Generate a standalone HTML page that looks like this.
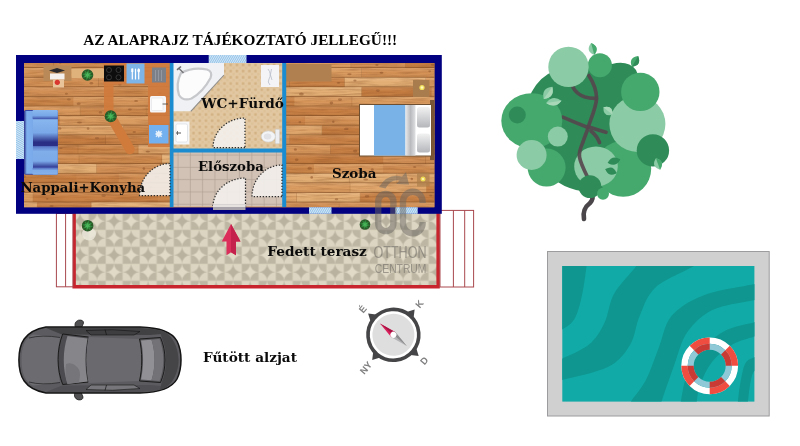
<!DOCTYPE html>
<html lang="hu"><head><meta charset="utf-8"><title>Alaprajz</title>
<style>html,body{margin:0;padding:0;background:#fff;overflow:hidden}svg{display:block}</style>
</head><body>
<svg width="800" height="446" viewBox="0 0 800 446">
<rect width="800" height="446" fill="#ffffff"/>
<defs>
<pattern id="hatch" width="1.85" height="4" patternUnits="userSpaceOnUse" patternTransform="rotate(30)">
<rect width="1.85" height="4" fill="#d6e8f6"/><rect width="0.95" height="4" fill="#93c3ea"/></pattern>
<pattern id="hatchV" width="1.85" height="4" patternUnits="userSpaceOnUse" patternTransform="rotate(120)">
<rect width="1.85" height="4" fill="#d6e8f6"/><rect width="0.95" height="4" fill="#93c3ea"/></pattern>
<pattern id="terr" width="34" height="34" patternUnits="userSpaceOnUse" x="3.6" y="-8.3">
<rect width="34" height="34" fill="#bcb6a3"/>
<rect x="17" y="0" width="17" height="17" fill="#dbd5c1"/>
<rect x="0" y="17" width="17" height="17" fill="#dcd6c2"/>
<path d="M0 8.5 A8.5 8.5 0 0 0 8.5 0 A8.5 8.5 0 0 0 17 8.5 A8.5 8.5 0 0 0 8.5 17 A8.5 8.5 0 0 0 0 8.5Z" fill="#e0dac6"/>
<path d="M17 25.5 A8.5 8.5 0 0 0 25.5 17 A8.5 8.5 0 0 0 34 25.5 A8.5 8.5 0 0 0 25.5 34 A8.5 8.5 0 0 0 17 25.5Z" fill="#e0dac6"/>
<path d="M17 8.5 A8.5 8.5 0 0 0 25.5 0 A8.5 8.5 0 0 0 34 8.5 A8.5 8.5 0 0 0 25.5 17 A8.5 8.5 0 0 0 17 8.5Z" fill="#b8b29f"/>
<path d="M0 25.5 A8.5 8.5 0 0 0 8.5 17 A8.5 8.5 0 0 0 17 25.5 A8.5 8.5 0 0 0 8.5 34 A8.5 8.5 0 0 0 0 25.5Z" fill="#b8b29f"/>
<path d="M0 0H34M0 17H34M0 0V34M17 0V34" stroke="#cfc9b5" stroke-width="0.6" fill="none"/>
</pattern>
<pattern id="bath" width="6.2" height="6.2" patternUnits="userSpaceOnUse" x="173" y="63">
<rect width="6.2" height="6.2" fill="#e2c8a2"/>
<rect x="0.6" y="0.6" width="2.6" height="2.6" fill="#d3b284"/>
<rect x="3.7" y="3.7" width="2.2" height="2.2" fill="#dcc096"/>
</pattern>
<pattern id="hall" width="12.3" height="12.3" patternUnits="userSpaceOnUse" x="177.6" y="154.6">
<rect width="12.3" height="12.3" fill="#cfbfb2"/>
<rect x="0.8" y="0.8" width="10.7" height="10.7" fill="#d1c2b5"/>
<path d="M0 0.1H12.3M0.1 0V12.3" stroke="#a6958a" stroke-width="0.75" fill="none"/>
</pattern>
<linearGradient id="sofaA" x1="0" y1="0" x2="0" y2="1">
<stop offset="0" stop-color="#8ab8ee"/><stop offset="0.6" stop-color="#79a8e8"/><stop offset="1" stop-color="#3c4ea8"/></linearGradient>
<linearGradient id="sofaC" x1="0" y1="0" x2="0" y2="1">
<stop offset="0" stop-color="#88b6ee"/><stop offset="0.5" stop-color="#7aa8e8"/><stop offset="0.85" stop-color="#2a2e84"/><stop offset="1" stop-color="#2c2f86"/></linearGradient>
<linearGradient id="sofaD" x1="0" y1="0" x2="0" y2="1">
<stop offset="0" stop-color="#5a78c8"/><stop offset="0.25" stop-color="#80aeea"/><stop offset="0.7" stop-color="#7ca9e8"/><stop offset="1" stop-color="#2e3690"/></linearGradient>
<linearGradient id="sofaE" x1="0" y1="0" x2="0" y2="1">
<stop offset="0" stop-color="#5068bc"/><stop offset="0.4" stop-color="#7eacea"/><stop offset="1" stop-color="#86b2ec"/></linearGradient>
<linearGradient id="sofaB" x1="0" y1="0" x2="1" y2="0">
<stop offset="0" stop-color="#2c3590"/><stop offset="0.3" stop-color="#7fb0ee"/><stop offset="1" stop-color="#7aa9ea"/></linearGradient>
<linearGradient id="bedG" x1="0" y1="0" x2="1" y2="0">
<stop offset="0" stop-color="#e9e9ea"/><stop offset="0.5" stop-color="#b9babd"/><stop offset="1" stop-color="#dfe0e2"/></linearGradient>
<linearGradient id="pil" x1="0" y1="0" x2="0" y2="1">
<stop offset="0" stop-color="#f2f2f2"/><stop offset="1" stop-color="#b4b6ba"/></linearGradient>
<linearGradient id="plankshade" x1="0" y1="0" x2="0" y2="1">
<stop offset="0" stop-color="#fff0d8" stop-opacity="0.16"/><stop offset="0.5" stop-color="#fff0d8" stop-opacity="0"/><stop offset="1" stop-color="#70400f" stop-opacity="0.16"/></linearGradient>
<filter id="soft" x="0" y="0" width="100%" height="100%"><feGaussianBlur stdDeviation="0.55"/></filter>
<filter id="grain" x="0" y="0" width="100%" height="100%" color-interpolation-filters="sRGB">
<feTurbulence type="fractalNoise" baseFrequency="0.035 0.55" numOctaves="3" seed="4" result="n"/>
<feColorMatrix in="n" type="matrix" values="0 0 0 0 0.50  0 0 0 0 0.28  0 0 0 0 0.12  1.9 0 0 0 -0.78"/>
</filter>
<clipPath id="poolclip"><rect x="562.300" y="266" width="192.100" height="135.600"/></clipPath>
<clipPath id="floorclip"><rect x="24" y="63" width="410.400" height="144.200"/></clipPath>
</defs>
<text x="83.2" y="45.4" font-family="'Liberation Serif',serif" font-weight="bold" font-size="15.2" textLength="314" lengthAdjust="spacingAndGlyphs" fill="#000">AZ ALAPRAJZ TÁJÉKOZTATÓ JELLEGŰ!!!</text>
<g id="terrace">
<rect x="73" y="213" width="367" height="75" fill="url(#terr)" filter="url(#soft)"/>
<path d="M74.15 213 V286.8 H438.1 V213" fill="none" stroke="#c8242e" stroke-width="3.4"/>
<g fill="#fff" stroke="#a8484e" stroke-width="1"><rect x="56.4" y="213.5" width="16.5" height="73.3"/><line x1="65.6" y1="213.5" x2="65.6" y2="286.8"/>
<rect x="440" y="210.4" width="33.6" height="76.6"/><line x1="453.4" y1="210.4" x2="453.4" y2="287"/><line x1="464.700" y1="210.4" x2="464.700" y2="287"/></g>
</g>
<rect x="16" y="55" width="425.800" height="158.800" fill="#000080"/>
<rect x="24" y="63" width="410.400" height="144.200" fill="#c48a52"/>
<g clip-path="url(#floorclip)">
<rect x="4.6" y="58.40" width="49.6" height="9.60" fill="#d18e54"/>
<rect x="53.4" y="58.40" width="0.9" height="9.60" fill="#8a5428" opacity="0.45"/>
<rect x="53.9" y="58.40" width="70.0" height="9.60" fill="#d08c50"/>
<ellipse cx="60.2" cy="62.9" rx="1.3" ry="0.9" fill="#8e5226" opacity="0.55"/>
<rect x="123.6" y="58.40" width="75.6" height="9.60" fill="#d7965a"/>
<rect x="198.5" y="58.40" width="0.9" height="9.60" fill="#8a5428" opacity="0.45"/>
<ellipse cx="170.1" cy="63.5" rx="1.3" ry="1.2" fill="#8e5226" opacity="0.55"/>
<rect x="199.0" y="58.40" width="40.0" height="9.60" fill="#c37a3e"/>
<rect x="238.2" y="58.40" width="0.9" height="9.60" fill="#8a5428" opacity="0.45"/>
<ellipse cx="212.2" cy="61.5" rx="1.3" ry="1.0" fill="#8e5226" opacity="0.55"/>
<rect x="238.7" y="58.40" width="112.8" height="9.60" fill="#d99a5e"/>
<rect x="350.7" y="58.40" width="0.9" height="9.60" fill="#8a5428" opacity="0.45"/>
<ellipse cx="281.6" cy="63.4" rx="1.3" ry="0.8" fill="#8e5226" opacity="0.55"/>
<rect x="351.2" y="58.40" width="54.9" height="9.60" fill="#d18e54"/>
<rect x="405.3" y="58.40" width="0.9" height="9.60" fill="#8a5428" opacity="0.45"/>
<ellipse cx="376.9" cy="65.1" rx="1.6" ry="1.0" fill="#8e5226" opacity="0.55"/>
<rect x="405.8" y="58.40" width="52.4" height="9.60" fill="#c37a3e"/>
<rect x="457.4" y="58.40" width="0.9" height="9.60" fill="#8a5428" opacity="0.45"/>
<ellipse cx="432.9" cy="64.8" rx="2.1" ry="1.0" fill="#8e5226" opacity="0.55"/>
<rect x="24" y="58.40" width="411" height="9.60" fill="url(#plankshade)"/>
<rect x="24" y="67.30" width="411" height="1.3" fill="#7c4a22" opacity="0.72"/>
<rect x="-34.8" y="68.00" width="46.5" height="9.60" fill="#c88044"/>
<rect x="10.9" y="68.00" width="0.9" height="9.60" fill="#8a5428" opacity="0.45"/>
<ellipse cx="-25.0" cy="72.7" rx="1.2" ry="1.3" fill="#8e5226" opacity="0.55"/>
<rect x="11.4" y="68.00" width="107.9" height="9.60" fill="#d7965a"/>
<ellipse cx="49.3" cy="72.1" rx="1.8" ry="1.4" fill="#8e5226" opacity="0.55"/>
<rect x="119.0" y="68.00" width="41.8" height="9.60" fill="#c98346"/>
<ellipse cx="146.4" cy="70.8" rx="2.1" ry="1.0" fill="#8e5226" opacity="0.55"/>
<ellipse cx="142.4" cy="73.6" rx="1.7" ry="1.3" fill="#8e5226" opacity="0.55"/>
<rect x="160.6" y="68.00" width="119.6" height="9.60" fill="#d39054"/>
<rect x="279.3" y="68.00" width="0.9" height="9.60" fill="#8a5428" opacity="0.45"/>
<ellipse cx="204.1" cy="73.2" rx="1.8" ry="1.0" fill="#8e5226" opacity="0.55"/>
<ellipse cx="196.6" cy="73.8" rx="1.7" ry="1.4" fill="#8e5226" opacity="0.55"/>
<rect x="279.8" y="68.00" width="82.5" height="9.60" fill="#d99a5e"/>
<rect x="361.5" y="68.00" width="0.9" height="9.60" fill="#8a5428" opacity="0.45"/>
<ellipse cx="349.4" cy="74.2" rx="2.2" ry="1.0" fill="#8e5226" opacity="0.55"/>
<rect x="362.0" y="68.00" width="74.8" height="9.60" fill="#d39054"/>
<rect x="436.0" y="68.00" width="0.9" height="9.60" fill="#8a5428" opacity="0.45"/>
<ellipse cx="429.7" cy="71.2" rx="1.4" ry="1.0" fill="#8e5226" opacity="0.55"/>
<ellipse cx="381.5" cy="72.7" rx="1.9" ry="1.0" fill="#8e5226" opacity="0.55"/>
<rect x="24" y="68.00" width="411" height="9.60" fill="url(#plankshade)"/>
<rect x="24" y="76.90" width="411" height="1.3" fill="#7c4a22" opacity="0.72"/>
<rect x="23.8" y="77.60" width="75.1" height="9.60" fill="#d39054"/>
<rect x="98.1" y="77.60" width="0.9" height="9.60" fill="#8a5428" opacity="0.45"/>
<ellipse cx="91.4" cy="83.2" rx="1.8" ry="1.2" fill="#8e5226" opacity="0.55"/>
<rect x="98.6" y="77.60" width="99.5" height="9.60" fill="#d08c50"/>
<rect x="197.3" y="77.60" width="0.9" height="9.60" fill="#8a5428" opacity="0.45"/>
<ellipse cx="138.9" cy="81.9" rx="1.8" ry="1.1" fill="#8e5226" opacity="0.55"/>
<ellipse cx="119.9" cy="84.5" rx="1.7" ry="0.9" fill="#8e5226" opacity="0.55"/>
<rect x="197.8" y="77.60" width="92.4" height="9.60" fill="#c98346"/>
<rect x="289.4" y="77.60" width="0.9" height="9.60" fill="#8a5428" opacity="0.45"/>
<ellipse cx="246.9" cy="84.4" rx="1.9" ry="0.8" fill="#8e5226" opacity="0.55"/>
<rect x="289.9" y="77.60" width="55.1" height="9.60" fill="#c88044"/>
<rect x="344.1" y="77.60" width="0.9" height="9.60" fill="#8a5428" opacity="0.45"/>
<ellipse cx="338.5" cy="82.8" rx="1.8" ry="0.9" fill="#8e5226" opacity="0.55"/>
<rect x="344.6" y="77.60" width="81.7" height="9.60" fill="#e3ae74"/>
<rect x="425.5" y="77.60" width="0.9" height="9.60" fill="#8a5428" opacity="0.45"/>
<ellipse cx="354.9" cy="80.6" rx="1.6" ry="1.0" fill="#8e5226" opacity="0.55"/>
<rect x="426.0" y="77.60" width="114.0" height="9.60" fill="#d99a5e"/>
<rect x="539.2" y="77.60" width="0.9" height="9.60" fill="#8a5428" opacity="0.45"/>
<ellipse cx="530.5" cy="82.5" rx="1.4" ry="1.2" fill="#8e5226" opacity="0.55"/>
<rect x="24" y="77.60" width="411" height="9.60" fill="url(#plankshade)"/>
<rect x="24" y="86.50" width="411" height="1.3" fill="#7c4a22" opacity="0.72"/>
<rect x="22.4" y="87.20" width="85.5" height="9.60" fill="#d18e54"/>
<ellipse cx="66.4" cy="93.8" rx="1.6" ry="1.0" fill="#8e5226" opacity="0.55"/>
<rect x="107.5" y="87.20" width="86.7" height="9.60" fill="#cb864a"/>
<rect x="193.5" y="87.20" width="0.9" height="9.60" fill="#8a5428" opacity="0.45"/>
<ellipse cx="159.7" cy="93.2" rx="2.1" ry="0.9" fill="#8e5226" opacity="0.55"/>
<rect x="194.0" y="87.20" width="58.0" height="9.60" fill="#c88044"/>
<ellipse cx="207.9" cy="91.9" rx="2.1" ry="1.5" fill="#8e5226" opacity="0.55"/>
<rect x="251.7" y="87.20" width="110.4" height="9.60" fill="#e3ae74"/>
<rect x="361.3" y="87.20" width="0.9" height="9.60" fill="#8a5428" opacity="0.45"/>
<ellipse cx="301.4" cy="93.9" rx="2.4" ry="1.5" fill="#8e5226" opacity="0.55"/>
<rect x="361.8" y="87.20" width="69.9" height="9.60" fill="#c37a3e"/>
<rect x="430.9" y="87.20" width="0.9" height="9.60" fill="#8a5428" opacity="0.45"/>
<ellipse cx="377.9" cy="90.6" rx="1.9" ry="1.4" fill="#8e5226" opacity="0.55"/>
<ellipse cx="417.6" cy="91.9" rx="2.0" ry="1.4" fill="#8e5226" opacity="0.55"/>
<rect x="431.4" y="87.20" width="43.4" height="9.60" fill="#d18e54"/>
<rect x="474.0" y="87.20" width="0.9" height="9.60" fill="#8a5428" opacity="0.45"/>
<ellipse cx="462.9" cy="93.1" rx="1.8" ry="0.9" fill="#8e5226" opacity="0.55"/>
<ellipse cx="463.1" cy="91.2" rx="2.2" ry="1.5" fill="#8e5226" opacity="0.55"/>
<rect x="24" y="87.20" width="411" height="9.60" fill="url(#plankshade)"/>
<rect x="24" y="96.10" width="411" height="1.3" fill="#7c4a22" opacity="0.72"/>
<rect x="0.2" y="96.80" width="73.4" height="9.60" fill="#c98346"/>
<ellipse cx="68.9" cy="99.4" rx="1.9" ry="1.1" fill="#8e5226" opacity="0.55"/>
<rect x="73.4" y="96.80" width="97.6" height="9.60" fill="#d7965a"/>
<ellipse cx="136.1" cy="100.9" rx="1.9" ry="0.9" fill="#8e5226" opacity="0.55"/>
<ellipse cx="78.7" cy="103.7" rx="2.0" ry="1.2" fill="#8e5226" opacity="0.55"/>
<rect x="170.7" y="96.80" width="124.0" height="9.60" fill="#c88044"/>
<ellipse cx="270.3" cy="100.2" rx="1.5" ry="1.0" fill="#8e5226" opacity="0.55"/>
<rect x="294.4" y="96.80" width="58.2" height="9.60" fill="#d7965a"/>
<rect x="351.7" y="96.80" width="0.9" height="9.60" fill="#8a5428" opacity="0.45"/>
<ellipse cx="340.0" cy="99.6" rx="2.1" ry="1.4" fill="#8e5226" opacity="0.55"/>
<ellipse cx="331.4" cy="103.0" rx="1.8" ry="1.4" fill="#8e5226" opacity="0.55"/>
<rect x="352.2" y="96.80" width="118.7" height="9.60" fill="#d99a5e"/>
<rect x="470.2" y="96.80" width="0.9" height="9.60" fill="#8a5428" opacity="0.45"/>
<rect x="24" y="96.80" width="411" height="9.60" fill="url(#plankshade)"/>
<rect x="24" y="105.70" width="411" height="1.3" fill="#7c4a22" opacity="0.72"/>
<rect x="-28.4" y="106.40" width="109.1" height="9.60" fill="#d7965a"/>
<rect x="79.9" y="106.40" width="0.9" height="9.60" fill="#8a5428" opacity="0.45"/>
<ellipse cx="-7.0" cy="111.0" rx="2.1" ry="1.2" fill="#8e5226" opacity="0.55"/>
<rect x="80.4" y="106.40" width="66.3" height="9.60" fill="#cb864a"/>
<rect x="145.9" y="106.40" width="0.9" height="9.60" fill="#8a5428" opacity="0.45"/>
<ellipse cx="129.9" cy="109.4" rx="1.9" ry="1.0" fill="#8e5226" opacity="0.55"/>
<ellipse cx="100.5" cy="112.4" rx="1.8" ry="1.2" fill="#8e5226" opacity="0.55"/>
<rect x="146.4" y="106.40" width="107.5" height="9.60" fill="#c98346"/>
<rect x="253.1" y="106.40" width="0.9" height="9.60" fill="#8a5428" opacity="0.45"/>
<ellipse cx="219.1" cy="110.9" rx="1.8" ry="1.1" fill="#8e5226" opacity="0.55"/>
<rect x="253.6" y="106.40" width="124.7" height="9.60" fill="#c77e42"/>
<rect x="377.5" y="106.40" width="0.9" height="9.60" fill="#8a5428" opacity="0.45"/>
<ellipse cx="365.0" cy="112.9" rx="1.4" ry="1.1" fill="#8e5226" opacity="0.55"/>
<rect x="378.0" y="106.40" width="74.9" height="9.60" fill="#c88044"/>
<rect x="452.1" y="106.40" width="0.9" height="9.60" fill="#8a5428" opacity="0.45"/>
<rect x="24" y="106.40" width="411" height="9.60" fill="url(#plankshade)"/>
<rect x="24" y="115.30" width="411" height="1.3" fill="#7c4a22" opacity="0.72"/>
<rect x="-16.3" y="116.00" width="76.0" height="9.60" fill="#c37a3e"/>
<rect x="58.9" y="116.00" width="0.9" height="9.60" fill="#8a5428" opacity="0.45"/>
<rect x="59.4" y="116.00" width="120.5" height="9.60" fill="#d99a5e"/>
<ellipse cx="79.5" cy="122.5" rx="2.4" ry="1.0" fill="#8e5226" opacity="0.55"/>
<rect x="179.6" y="116.00" width="125.8" height="9.60" fill="#c88044"/>
<ellipse cx="299.9" cy="122.2" rx="1.4" ry="1.1" fill="#8e5226" opacity="0.55"/>
<rect x="305.1" y="116.00" width="84.3" height="9.60" fill="#d39054"/>
<rect x="388.6" y="116.00" width="0.9" height="9.60" fill="#8a5428" opacity="0.45"/>
<ellipse cx="333.3" cy="121.7" rx="1.2" ry="1.2" fill="#8e5226" opacity="0.55"/>
<rect x="389.1" y="116.00" width="77.1" height="9.60" fill="#d08c50"/>
<rect x="465.5" y="116.00" width="0.9" height="9.60" fill="#8a5428" opacity="0.45"/>
<ellipse cx="428.4" cy="118.8" rx="2.4" ry="1.4" fill="#8e5226" opacity="0.55"/>
<rect x="24" y="116.00" width="411" height="9.60" fill="url(#plankshade)"/>
<rect x="24" y="124.90" width="411" height="1.3" fill="#7c4a22" opacity="0.72"/>
<rect x="-34.3" y="125.60" width="45.3" height="9.60" fill="#dfa56a"/>
<rect x="10.2" y="125.60" width="0.9" height="9.60" fill="#8a5428" opacity="0.45"/>
<ellipse cx="-20.3" cy="128.7" rx="1.7" ry="1.4" fill="#8e5226" opacity="0.55"/>
<rect x="10.7" y="125.60" width="113.1" height="9.60" fill="#dfa56a"/>
<rect x="123.0" y="125.60" width="0.9" height="9.60" fill="#8a5428" opacity="0.45"/>
<ellipse cx="88.1" cy="128.5" rx="1.3" ry="1.3" fill="#8e5226" opacity="0.55"/>
<ellipse cx="59.2" cy="128.4" rx="2.3" ry="1.2" fill="#8e5226" opacity="0.55"/>
<rect x="123.5" y="125.60" width="111.5" height="9.60" fill="#c98346"/>
<rect x="234.1" y="125.60" width="0.9" height="9.60" fill="#8a5428" opacity="0.45"/>
<ellipse cx="134.3" cy="132.0" rx="1.7" ry="1.0" fill="#8e5226" opacity="0.55"/>
<rect x="234.6" y="125.60" width="87.8" height="9.60" fill="#dfa56a"/>
<rect x="321.7" y="125.60" width="0.9" height="9.60" fill="#8a5428" opacity="0.45"/>
<rect x="322.2" y="125.60" width="85.4" height="9.60" fill="#c37a3e"/>
<ellipse cx="346.3" cy="128.9" rx="2.3" ry="1.2" fill="#8e5226" opacity="0.55"/>
<rect x="407.2" y="125.60" width="85.8" height="9.60" fill="#c37a3e"/>
<rect x="492.2" y="125.60" width="0.9" height="9.60" fill="#8a5428" opacity="0.45"/>
<ellipse cx="432.2" cy="131.7" rx="2.4" ry="0.8" fill="#8e5226" opacity="0.55"/>
<rect x="24" y="125.60" width="411" height="9.60" fill="url(#plankshade)"/>
<rect x="24" y="134.50" width="411" height="1.3" fill="#7c4a22" opacity="0.72"/>
<rect x="22.9" y="135.20" width="83.3" height="9.60" fill="#c37a3e"/>
<rect x="105.4" y="135.20" width="0.9" height="9.60" fill="#8a5428" opacity="0.45"/>
<ellipse cx="97.0" cy="138.2" rx="2.2" ry="1.1" fill="#8e5226" opacity="0.55"/>
<rect x="105.9" y="135.20" width="82.3" height="9.60" fill="#c88044"/>
<ellipse cx="160.8" cy="142.1" rx="1.6" ry="1.4" fill="#8e5226" opacity="0.55"/>
<rect x="188.0" y="135.20" width="102.4" height="9.60" fill="#d18e54"/>
<rect x="289.6" y="135.20" width="0.9" height="9.60" fill="#8a5428" opacity="0.45"/>
<ellipse cx="284.4" cy="141.5" rx="1.2" ry="1.2" fill="#8e5226" opacity="0.55"/>
<rect x="290.1" y="135.20" width="118.9" height="9.60" fill="#c88044"/>
<rect x="408.2" y="135.20" width="0.9" height="9.60" fill="#8a5428" opacity="0.45"/>
<rect x="408.7" y="135.20" width="98.5" height="9.60" fill="#c88044"/>
<ellipse cx="466.7" cy="140.8" rx="1.3" ry="0.9" fill="#8e5226" opacity="0.55"/>
<rect x="24" y="135.20" width="411" height="9.60" fill="url(#plankshade)"/>
<rect x="24" y="144.10" width="411" height="1.3" fill="#7c4a22" opacity="0.72"/>
<rect x="7.9" y="144.80" width="35.6" height="9.60" fill="#d39054"/>
<ellipse cx="18.5" cy="151.6" rx="1.6" ry="1.0" fill="#8e5226" opacity="0.55"/>
<rect x="43.2" y="144.80" width="35.4" height="9.60" fill="#c88044"/>
<rect x="77.8" y="144.80" width="0.9" height="9.60" fill="#8a5428" opacity="0.45"/>
<ellipse cx="60.8" cy="148.2" rx="1.8" ry="0.8" fill="#8e5226" opacity="0.55"/>
<rect x="78.3" y="144.80" width="60.4" height="9.60" fill="#c98346"/>
<rect x="137.9" y="144.80" width="0.9" height="9.60" fill="#8a5428" opacity="0.45"/>
<rect x="138.4" y="144.80" width="72.7" height="9.60" fill="#dfa56a"/>
<rect x="210.3" y="144.80" width="0.9" height="9.60" fill="#8a5428" opacity="0.45"/>
<ellipse cx="147.8" cy="151.6" rx="2.2" ry="0.9" fill="#8e5226" opacity="0.55"/>
<rect x="210.8" y="144.80" width="120.1" height="9.60" fill="#d7965a"/>
<rect x="330.1" y="144.80" width="0.9" height="9.60" fill="#8a5428" opacity="0.45"/>
<ellipse cx="295.4" cy="149.5" rx="1.5" ry="1.2" fill="#8e5226" opacity="0.55"/>
<rect x="330.6" y="144.80" width="49.1" height="9.60" fill="#c77e42"/>
<ellipse cx="364.5" cy="151.0" rx="1.4" ry="1.2" fill="#8e5226" opacity="0.55"/>
<ellipse cx="355.2" cy="151.1" rx="2.2" ry="1.4" fill="#8e5226" opacity="0.55"/>
<rect x="379.4" y="144.80" width="90.8" height="9.60" fill="#c77e42"/>
<rect x="469.4" y="144.80" width="0.9" height="9.60" fill="#8a5428" opacity="0.45"/>
<ellipse cx="390.4" cy="147.5" rx="2.0" ry="1.5" fill="#8e5226" opacity="0.55"/>
<rect x="24" y="144.80" width="411" height="9.60" fill="url(#plankshade)"/>
<rect x="24" y="153.70" width="411" height="1.3" fill="#7c4a22" opacity="0.72"/>
<rect x="1.4" y="154.40" width="78.2" height="9.60" fill="#d08c50"/>
<rect x="78.8" y="154.40" width="0.9" height="9.60" fill="#8a5428" opacity="0.45"/>
<ellipse cx="39.6" cy="156.9" rx="2.2" ry="1.3" fill="#8e5226" opacity="0.55"/>
<rect x="79.3" y="154.40" width="83.1" height="9.60" fill="#cb864a"/>
<rect x="161.6" y="154.40" width="0.9" height="9.60" fill="#8a5428" opacity="0.45"/>
<rect x="162.1" y="154.40" width="106.1" height="9.60" fill="#e3ae74"/>
<rect x="267.4" y="154.40" width="0.9" height="9.60" fill="#8a5428" opacity="0.45"/>
<rect x="267.9" y="154.40" width="115.7" height="9.60" fill="#c37a3e"/>
<ellipse cx="296.7" cy="159.8" rx="1.8" ry="1.4" fill="#8e5226" opacity="0.55"/>
<rect x="383.3" y="154.40" width="42.6" height="9.60" fill="#d18e54"/>
<rect x="425.1" y="154.40" width="0.9" height="9.60" fill="#8a5428" opacity="0.45"/>
<rect x="425.6" y="154.40" width="93.9" height="9.60" fill="#d18e54"/>
<rect x="518.7" y="154.40" width="0.9" height="9.60" fill="#8a5428" opacity="0.45"/>
<ellipse cx="458.0" cy="159.8" rx="2.0" ry="1.2" fill="#8e5226" opacity="0.55"/>
<rect x="24" y="154.40" width="411" height="9.60" fill="url(#plankshade)"/>
<rect x="24" y="163.30" width="411" height="1.3" fill="#7c4a22" opacity="0.72"/>
<rect x="16.0" y="164.00" width="81.1" height="9.60" fill="#e3ae74"/>
<rect x="96.3" y="164.00" width="0.9" height="9.60" fill="#8a5428" opacity="0.45"/>
<rect x="96.8" y="164.00" width="101.1" height="9.60" fill="#d18e54"/>
<rect x="197.1" y="164.00" width="0.9" height="9.60" fill="#8a5428" opacity="0.45"/>
<ellipse cx="143.9" cy="168.6" rx="1.3" ry="1.4" fill="#8e5226" opacity="0.55"/>
<rect x="197.6" y="164.00" width="54.2" height="9.60" fill="#c98346"/>
<rect x="251.5" y="164.00" width="62.8" height="9.60" fill="#c98346"/>
<ellipse cx="309.7" cy="168.2" rx="2.3" ry="1.5" fill="#8e5226" opacity="0.55"/>
<ellipse cx="259.6" cy="166.9" rx="2.1" ry="1.0" fill="#8e5226" opacity="0.55"/>
<rect x="314.0" y="164.00" width="69.5" height="9.60" fill="#d7965a"/>
<ellipse cx="372.3" cy="169.7" rx="1.5" ry="1.4" fill="#8e5226" opacity="0.55"/>
<rect x="383.2" y="164.00" width="81.5" height="9.60" fill="#d08c50"/>
<rect x="463.9" y="164.00" width="0.9" height="9.60" fill="#8a5428" opacity="0.45"/>
<ellipse cx="437.1" cy="168.3" rx="2.1" ry="1.1" fill="#8e5226" opacity="0.55"/>
<ellipse cx="414.7" cy="167.0" rx="1.6" ry="1.0" fill="#8e5226" opacity="0.55"/>
<rect x="24" y="164.00" width="411" height="9.60" fill="url(#plankshade)"/>
<rect x="24" y="172.90" width="411" height="1.3" fill="#7c4a22" opacity="0.72"/>
<rect x="3.7" y="173.60" width="73.1" height="9.60" fill="#c37a3e"/>
<ellipse cx="24.1" cy="176.4" rx="1.7" ry="1.4" fill="#8e5226" opacity="0.55"/>
<rect x="76.5" y="173.60" width="42.6" height="9.60" fill="#c88044"/>
<rect x="118.8" y="173.60" width="62.0" height="9.60" fill="#d08c50"/>
<ellipse cx="156.9" cy="176.8" rx="2.4" ry="1.1" fill="#8e5226" opacity="0.55"/>
<rect x="180.5" y="173.60" width="65.3" height="9.60" fill="#d39054"/>
<ellipse cx="234.8" cy="179.8" rx="2.0" ry="1.4" fill="#8e5226" opacity="0.55"/>
<ellipse cx="238.1" cy="178.6" rx="2.1" ry="0.8" fill="#8e5226" opacity="0.55"/>
<rect x="245.4" y="173.60" width="104.9" height="9.60" fill="#e3ae74"/>
<rect x="349.5" y="173.60" width="0.9" height="9.60" fill="#8a5428" opacity="0.45"/>
<ellipse cx="311.7" cy="177.4" rx="1.3" ry="1.4" fill="#8e5226" opacity="0.55"/>
<rect x="350.0" y="173.60" width="47.4" height="9.60" fill="#e3ae74"/>
<rect x="396.6" y="173.60" width="0.9" height="9.60" fill="#8a5428" opacity="0.45"/>
<ellipse cx="365.7" cy="179.4" rx="2.4" ry="1.0" fill="#8e5226" opacity="0.55"/>
<rect x="397.1" y="173.60" width="97.6" height="9.60" fill="#dfa56a"/>
<rect x="493.9" y="173.60" width="0.9" height="9.60" fill="#8a5428" opacity="0.45"/>
<ellipse cx="411.8" cy="179.0" rx="1.3" ry="1.2" fill="#8e5226" opacity="0.55"/>
<ellipse cx="473.6" cy="178.6" rx="1.7" ry="1.0" fill="#8e5226" opacity="0.55"/>
<rect x="24" y="173.60" width="411" height="9.60" fill="url(#plankshade)"/>
<rect x="24" y="182.50" width="411" height="1.3" fill="#7c4a22" opacity="0.72"/>
<rect x="-21.6" y="183.20" width="75.9" height="9.60" fill="#cb864a"/>
<rect x="53.6" y="183.20" width="0.9" height="9.60" fill="#8a5428" opacity="0.45"/>
<rect x="54.1" y="183.20" width="51.9" height="9.60" fill="#cb864a"/>
<rect x="105.1" y="183.20" width="0.9" height="9.60" fill="#8a5428" opacity="0.45"/>
<ellipse cx="74.1" cy="189.3" rx="1.4" ry="0.8" fill="#8e5226" opacity="0.55"/>
<rect x="105.6" y="183.20" width="118.0" height="9.60" fill="#c88044"/>
<rect x="222.9" y="183.20" width="0.9" height="9.60" fill="#8a5428" opacity="0.45"/>
<ellipse cx="151.0" cy="187.2" rx="1.3" ry="1.0" fill="#8e5226" opacity="0.55"/>
<rect x="223.4" y="183.20" width="127.2" height="9.60" fill="#d99a5e"/>
<rect x="349.8" y="183.20" width="0.9" height="9.60" fill="#8a5428" opacity="0.45"/>
<ellipse cx="238.4" cy="189.7" rx="1.7" ry="1.3" fill="#8e5226" opacity="0.55"/>
<rect x="350.3" y="183.20" width="76.3" height="9.60" fill="#dfa56a"/>
<rect x="426.3" y="183.20" width="47.4" height="9.60" fill="#c88044"/>
<ellipse cx="468.2" cy="187.9" rx="1.3" ry="1.5" fill="#8e5226" opacity="0.55"/>
<ellipse cx="466.6" cy="188.1" rx="1.8" ry="1.1" fill="#8e5226" opacity="0.55"/>
<rect x="24" y="183.20" width="411" height="9.60" fill="url(#plankshade)"/>
<rect x="24" y="192.10" width="411" height="1.3" fill="#7c4a22" opacity="0.72"/>
<rect x="-23.0" y="192.80" width="56.6" height="9.60" fill="#d99a5e"/>
<rect x="32.8" y="192.80" width="0.9" height="9.60" fill="#8a5428" opacity="0.45"/>
<rect x="33.3" y="192.80" width="124.7" height="9.60" fill="#c77e42"/>
<ellipse cx="47.2" cy="198.8" rx="1.2" ry="0.9" fill="#8e5226" opacity="0.55"/>
<ellipse cx="103.6" cy="195.5" rx="2.1" ry="1.5" fill="#8e5226" opacity="0.55"/>
<rect x="157.7" y="192.80" width="94.8" height="9.60" fill="#cb864a"/>
<rect x="251.7" y="192.80" width="0.9" height="9.60" fill="#8a5428" opacity="0.45"/>
<rect x="252.2" y="192.80" width="44.7" height="9.60" fill="#dfa56a"/>
<rect x="296.2" y="192.80" width="0.9" height="9.60" fill="#8a5428" opacity="0.45"/>
<ellipse cx="270.4" cy="196.3" rx="1.9" ry="0.8" fill="#8e5226" opacity="0.55"/>
<rect x="296.7" y="192.80" width="63.9" height="9.60" fill="#e3ae74"/>
<rect x="359.8" y="192.80" width="0.9" height="9.60" fill="#8a5428" opacity="0.45"/>
<ellipse cx="336.5" cy="199.3" rx="1.8" ry="1.0" fill="#8e5226" opacity="0.55"/>
<rect x="360.3" y="192.80" width="58.8" height="9.60" fill="#c88044"/>
<ellipse cx="367.1" cy="196.2" rx="2.3" ry="1.3" fill="#8e5226" opacity="0.55"/>
<rect x="418.8" y="192.80" width="43.0" height="9.60" fill="#c37a3e"/>
<rect x="461.0" y="192.80" width="0.9" height="9.60" fill="#8a5428" opacity="0.45"/>
<ellipse cx="430.7" cy="195.5" rx="1.6" ry="1.1" fill="#8e5226" opacity="0.55"/>
<rect x="24" y="192.80" width="411" height="9.60" fill="url(#plankshade)"/>
<rect x="24" y="201.70" width="411" height="1.3" fill="#7c4a22" opacity="0.72"/>
<rect x="-17.0" y="202.40" width="54.1" height="9.60" fill="#dfa56a"/>
<rect x="36.9" y="202.40" width="54.8" height="9.60" fill="#c37a3e"/>
<rect x="90.9" y="202.40" width="0.9" height="9.60" fill="#8a5428" opacity="0.45"/>
<ellipse cx="51.6" cy="205.9" rx="2.1" ry="1.0" fill="#8e5226" opacity="0.55"/>
<rect x="91.4" y="202.40" width="125.7" height="9.60" fill="#e3ae74"/>
<rect x="216.3" y="202.40" width="0.9" height="9.60" fill="#8a5428" opacity="0.45"/>
<ellipse cx="152.3" cy="209.0" rx="1.3" ry="1.2" fill="#8e5226" opacity="0.55"/>
<rect x="216.8" y="202.40" width="122.9" height="9.60" fill="#d08c50"/>
<rect x="338.9" y="202.40" width="0.9" height="9.60" fill="#8a5428" opacity="0.45"/>
<ellipse cx="268.4" cy="208.1" rx="1.4" ry="1.1" fill="#8e5226" opacity="0.55"/>
<rect x="339.4" y="202.40" width="102.9" height="9.60" fill="#d39054"/>
<rect x="24" y="202.40" width="411" height="9.60" fill="url(#plankshade)"/>
<rect x="24" y="211.30" width="411" height="1.3" fill="#7c4a22" opacity="0.72"/>
<rect x="24" y="63" width="411" height="145" fill="#a0622e" filter="url(#grain)" opacity="0.38"/>
</g>
<g id="kitchen">
<rect x="103.500" y="63" width="66.500" height="21.5" fill="#d07a3e" opacity="0.9"/>
<rect x="148" y="84" width="22" height="63" fill="#d07a3e" opacity="0.9"/>
<rect x="104" y="84" width="9.5" height="33" fill="#d07a3c" opacity="0.9"/>
<path d="M110.700 116.300 L130 149.500" stroke="#d07a3c" stroke-width="9.5" stroke-linecap="round" fill="none"/>
<rect x="43.5" y="65.5" width="28" height="15.5" fill="#b98a58"/>
<rect x="71.5" y="69" width="32.5" height="9" fill="#dfb27c"/>
<rect x="50" y="73.5" width="14.5" height="6" fill="#f4f0ee"/>
<rect x="53" y="79.5" width="11" height="8" fill="#e9c49a"/>
<path d="M49 70.5 L57 68 L65 70.5 L57 73 Z" fill="#2a2a2c"/>
<circle cx="57.3" cy="82.3" r="2.6" fill="#d8362e"/>
<rect x="104" y="65.5" width="20" height="16" fill="#0d0d0d"/>
<circle cx="109" cy="70" r="2.5" fill="none" stroke="#3a3a3a" stroke-width="0.9"/>
<circle cx="118.5" cy="70" r="2.5" fill="none" stroke="#3a3a3a" stroke-width="0.9"/>
<circle cx="109" cy="77.3" r="2.5" fill="none" stroke="#3a3a3a" stroke-width="0.9"/>
<circle cx="118.5" cy="77.3" r="2.5" fill="none" stroke="#3a3a3a" stroke-width="0.9"/>
<rect x="126.5" y="63.5" width="18" height="20" fill="#7db5e8"/>
<g stroke="#fff" stroke-width="1.2" stroke-linecap="round"><line x1="132.3" y1="69" x2="132.3" y2="79"/><line x1="135.5" y1="69" x2="135.5" y2="79"/><line x1="138.7" y1="69" x2="138.7" y2="79"/></g>
<ellipse cx="138.7" cy="70.5" rx="1.3" ry="2" fill="#fff"/><rect x="131.3" y="68.5" width="2" height="3.5" fill="#fff"/>
<rect x="152" y="67.5" width="14" height="15" fill="#7c8088"/>
<g stroke="#9a9ea6" stroke-width="0.8"><line x1="155.5" y1="70" x2="155.5" y2="81"/><line x1="158.5" y1="70" x2="158.5" y2="81"/><line x1="161.5" y1="70" x2="161.5" y2="81"/></g>
<rect x="150" y="96" width="16" height="16.5" rx="1.5" fill="#f6f6f8"/>
<rect x="151.5" y="98" width="11.5" height="12.5" rx="1" fill="#fdfdfd" stroke="#dcdce0" stroke-width="0.5"/>
<line x1="162.5" y1="104" x2="168" y2="104" stroke="#55504c" stroke-width="0.9"/>
<rect x="149" y="125" width="19.5" height="18.5" fill="#72b0f0"/>
<path d="M158.800 130 L160.200 132.600 L162.800 134 L160.200 135.400 L158.800 138 L157.400 135.400 L154.800 134 L157.400 132.600 Z" fill="#eef5fc"/><path d="M156 131.200 L161.600 136.800 M161.600 131.200 L156 136.800" stroke="#e4effa" stroke-width="1.3"/>
<circle cx="87.5" cy="75" r="5.82" fill="#2b5a28"/>
<polygon points="93.1,76.1 89.6,76.4 90.6,79.8 88.0,77.5 86.4,80.6 86.1,77.1 82.7,78.1 85.0,75.5 81.9,73.9 85.4,73.6 84.4,70.2 87.0,72.5 88.6,69.4 88.9,72.9 92.3,71.9 90.0,74.5" fill="#2f8f3e"/>
<polygon points="90.8,76.8 88.2,76.1 87.6,78.7 86.9,76.2 84.3,76.9 86.2,75.0 84.2,73.2 86.8,73.9 87.4,71.3 88.1,73.8 90.7,73.1 88.8,75.0" fill="#4bb45a"/>
<circle cx="110.7" cy="116.3" r="6.01" fill="#2b5a28"/>
<polygon points="116.5,117.5 112.9,117.8 114.0,121.2 111.2,118.9 109.5,122.1 109.2,118.5 105.8,119.6 108.1,116.8 104.9,115.1 108.5,114.8 107.4,111.4 110.2,113.7 111.9,110.5 112.2,114.1 115.6,113.0 113.3,115.8" fill="#2f8f3e"/>
<polygon points="114.1,118.1 111.4,117.5 110.8,120.1 110.0,117.5 107.4,118.3 109.3,116.3 107.3,114.5 110.0,115.1 110.6,112.5 111.4,115.1 114.0,114.3 112.1,116.3" fill="#4bb45a"/>
</g>
<g id="sofa">
<rect x="24.2" y="110" width="33.6" height="64.800" rx="1.5" fill="#3a4aa4"/>
<rect x="24.2" y="111" width="8.8" height="62.800" fill="url(#sofaB)"/>
<rect x="32.5" y="110" width="25.300" height="9.2" rx="1.2" fill="url(#sofaA)"/>
<rect x="33" y="119.200" width="24.800" height="27" fill="url(#sofaC)"/>
<rect x="33" y="146.200" width="24.800" height="21.300" fill="url(#sofaD)"/>
<rect x="32.5" y="167.500" width="25.300" height="7.3" rx="1.2" fill="url(#sofaE)"/>
</g>
<rect x="173" y="63" width="110" height="86" fill="url(#bath)"/>
<rect x="173" y="152" width="110" height="54.5" fill="url(#hall)"/>
<g id="bedroom">
<rect x="286" y="64" width="45.5" height="17.5" fill="#b08050"/>
<rect x="413" y="80" width="16.5" height="17" fill="#a87c4c"/><circle cx="422" cy="87.5" r="2.6" fill="#f0e060"/><circle cx="422" cy="87.5" r="1.2" fill="#fff8c0"/>
<rect x="417" y="172.500" width="12.500" height="14" fill="#ad7f4c" opacity="0.7"/><circle cx="423" cy="179" r="2.5" fill="#eedb55"/><circle cx="423" cy="179" r="1.1" fill="#fff8c0"/>
<rect x="430" y="100" width="4.5" height="60" fill="#7a5636"/>
<rect x="359" y="104" width="72.5" height="52.5" fill="#6e5030"/>
<rect x="360" y="105" width="71" height="50.5" fill="#ffffff"/>
<rect x="374" y="105" width="31.5" height="50.5" fill="#78b2e6"/>
<rect x="405.5" y="105" width="10" height="50.5" fill="url(#bedG)"/>
<rect x="417" y="107" width="13" height="20.500" rx="2.5" fill="url(#pil)"/>
<rect x="417" y="133.5" width="13" height="19" rx="2.5" fill="url(#pil)"/>
</g>
<g id="bathfix">
<path d="M173 63 H224 V75 L190.800 111.3 H173 Z" fill="#eff1f4"/>
<path d="M224 75 L190.800 111.3" stroke="#8f8d8a" stroke-width="1.1" fill="none"/>
<path d="M181 73 Q193 66.500 207 69.500 Q213 71.500 210.500 78 Q203 92 191.500 98.500 Q183 101.500 179 95 Q175.500 84 181 73 Z" fill="#fcfcfd" stroke="#c6c8cb" stroke-width="2.2"/>
<path d="M178.800 68.300 L183.500 73" stroke="#77777b" stroke-width="1.5"/><path d="M177 69.800 L181 66.5" stroke="#6c6c70" stroke-width="1.6"/>
<rect x="261" y="65" width="18" height="22" fill="#f4f4f6"/>
<path d="M268 69 Q272 74 269 79 Q267 82 270 85 M271.500 69 Q269 75 272 80" stroke="#b8bcc8" stroke-width="0.8" fill="none"/>
<rect x="174" y="121.5" width="15.5" height="23" fill="#f4f6f8"/>
<rect x="176" y="124" width="11.5" height="18" rx="1.5" fill="#fff" stroke="#d4d8dc" stroke-width="0.6"/>
<line x1="176" y1="133" x2="181" y2="133" stroke="#555" stroke-width="1"/><line x1="177.500" y1="131" x2="177.500" y2="135" stroke="#555" stroke-width="0.8"/>
<rect x="275.300" y="129.300" width="4.2" height="14.4" rx="1" fill="#eceef1" stroke="#c4c8cc" stroke-width="0.5"/>
<ellipse cx="268.300" cy="136.500" rx="7" ry="5.6" fill="#f3f4f6" stroke="#cfd1d5" stroke-width="0.6"/>
<ellipse cx="267.600" cy="136.500" rx="3.8" ry="3" fill="#e0e2e6"/>
</g>
<g fill="#1b8ccf">
<rect x="169.800" y="63" width="3.7" height="144"/>
<rect x="282.200" y="63" width="4" height="144"/>
<rect x="171" y="148.500" width="113" height="4"/>
</g>
<g fill="url(#hatch)">
<rect x="208.700" y="55" width="37.800" height="8"/>
<rect x="16" y="121" width="8" height="38" fill="url(#hatchV)"/>
<rect x="309" y="207.200" width="22.500" height="6.6"/>
<rect x="395.200" y="207.200" width="22.500" height="6.6"/>
</g>
<path d="M245 147.500 H213 A32 29.500 0 0 1 245 118 Z" fill="#f3efec" fill-opacity="0.9" stroke="#2e2e2e" stroke-width="1.25" stroke-dasharray="1.3 1.7"/>
<path d="M282 196.500 H252 A30 31.500 0 0 1 282 165 Z" fill="#f3efec" fill-opacity="0.9" stroke="#2e2e2e" stroke-width="1.25" stroke-dasharray="1.3 1.7"/>
<path d="M245.500 206.500 H213 A32.500 28.500 0 0 1 245.500 178 Z" fill="#f3efec" fill-opacity="0.9" stroke="#2e2e2e" stroke-width="1.25" stroke-dasharray="1.3 1.7"/>
<path d="M170 195.500 H139.500 A30.500 32 0 0 1 170 163.500 Z" fill="#f3efec" fill-opacity="0.9" stroke="#2e2e2e" stroke-width="1.25" stroke-dasharray="1.3 1.7"/>
<rect x="213" y="204.500" width="32.500" height="5.5" fill="#a9a4ac"/>
<rect x="213" y="204.500" width="32.500" height="2.5" fill="#e6e2e0"/>
<ellipse cx="89" cy="234" rx="7" ry="6.5" fill="#ece8dc" opacity="0.8"/>
<circle cx="87.6" cy="225.7" r="5.82" fill="#2b5a28"/>
<polygon points="93.2,226.8 89.7,227.1 90.7,230.5 88.1,228.2 86.5,231.3 86.2,227.8 82.8,228.8 85.1,226.2 82.0,224.6 85.5,224.3 84.5,220.9 87.1,223.2 88.7,220.1 89.0,223.6 92.4,222.6 90.1,225.2" fill="#2f8f3e"/>
<polygon points="90.9,227.5 88.3,226.8 87.7,229.4 87.0,226.9 84.4,227.6 86.3,225.7 84.3,223.9 86.9,224.6 87.5,222.0 88.2,224.5 90.8,223.8 88.9,225.7" fill="#4bb45a"/>
<circle cx="365" cy="224.5" r="5.33" fill="#2b5a28"/>
<polygon points="370.1,225.5 366.9,225.8 367.9,228.9 365.4,226.8 364.0,229.6 363.7,226.4 360.6,227.4 362.7,224.9 359.9,223.5 363.1,223.2 362.1,220.1 364.6,222.2 366.0,219.4 366.3,222.6 369.4,221.6 367.3,224.1" fill="#2f8f3e"/>
<polygon points="368.0,226.1 365.6,225.5 365.1,227.9 364.4,225.6 362.1,226.3 363.8,224.5 362.0,222.9 364.4,223.5 364.9,221.1 365.6,223.4 367.9,222.7 366.2,224.5" fill="#4bb45a"/>
<path d="M231 224 L240.500 241.500 H236 V255.200 L231 252.300 L226.500 255.200 V241.500 H221.800 Z" fill="#dc2e5a"/>
<path d="M231 224 L240.500 241.500 H236 V255.200 L231 252.300 Z" fill="#c4224c"/>
<g id="wm" opacity="0.5" fill="none" stroke="#6a6660">
<path d="M378.200 201.500 V223.500 A7.6 7.6 0 0 0 393.400 223.500 V201.500 A7.6 7.6 0 0 0 378.200 201.500 Z" stroke-width="6.4"/>
<path d="M422.600 203 V201.500 A8.3 8.3 0 0 0 403 201.500 V223.500 A8.3 8.3 0 0 0 422.600 223.500 V222" stroke-width="6.4"/>
<path d="M379 187 Q388 172.500 402 176.500 L406 172 L409 184.500 L396 184 L399.500 180.500 Q391 178.500 385.500 188.500 Z" fill="#6a6660" stroke="none"/>
</g>
<g font-family="'Liberation Sans',sans-serif" fill="#6f6b66" fill-opacity="0.6">
<text x="373.500" y="257.700" font-size="16.3" textLength="53" lengthAdjust="spacingAndGlyphs">OTTHON</text>
<text x="374.800" y="273.200" font-size="13.4" textLength="51.6" lengthAdjust="spacingAndGlyphs">CENTRUM</text>
</g>
<text x="20.500" y="192" textLength="124.700" font-family="'DejaVu Serif',serif" font-weight="bold" font-size="13.3" fill="#0a0a0a" lengthAdjust="spacingAndGlyphs">Nappali+Konyha</text>
<text x="201.200" y="108.300" textLength="82.800" font-family="'DejaVu Serif',serif" font-weight="bold" font-size="13.3" fill="#0a0a0a" lengthAdjust="spacingAndGlyphs">WC+Fürdő</text>
<text x="198" y="171.200" textLength="65.800" font-family="'DejaVu Serif',serif" font-weight="bold" font-size="13.3" fill="#0a0a0a" lengthAdjust="spacingAndGlyphs">Előszoba</text>
<text x="332" y="178" textLength="44.5" font-family="'DejaVu Serif',serif" font-weight="bold" font-size="13.3" fill="#0a0a0a" lengthAdjust="spacingAndGlyphs">Szoba</text>
<text x="267.300" y="255.500" textLength="99.500" font-family="'DejaVu Serif',serif" font-weight="bold" font-size="13.3" fill="#0a0a0a" lengthAdjust="spacingAndGlyphs">Fedett terasz</text>
<text x="203" y="362" textLength="94" font-family="'DejaVu Serif',serif" font-weight="bold" font-size="13.3" fill="#0a0a0a" lengthAdjust="spacingAndGlyphs">Fűtött alzjat</text>
<g id="tree">
<path d="M584 219 Q582 209 590 203 Q594 199 592 192" fill="none" stroke="#4a4649" stroke-width="4.6" stroke-linecap="round"/>
<path d="M548 74 Q580 58 612 64 Q628 60 636 70 Q650 100 640 150 Q625 185 590 192 Q560 190 545 170 Q522 140 528 100 Q535 82 548 74 Z" fill="#2f8c58"/>
<circle cx="623.2" cy="168.8" r="28" fill="#45a86d"/>
<ellipse cx="596" cy="166.500" rx="21.8" ry="20" fill="#8bcba5"/>
<g transform="translate(614 161) rotate(75)"><path d="M0 6.5 Q-7 0 0 -6.5 Q7 0 0 6.5Z" fill="#2f8c58"/><path d="M0 6.5 Q7 0 0 -6.5 Z" fill="#2f8c58"/></g>
<g transform="translate(611 171) rotate(110)"><path d="M0 6.0 Q-7 0 0 -6.0 Q7 0 0 6.0Z" fill="#2f8c58"/><path d="M0 6.0 Q7 0 0 -6.0 Z" fill="#2f8c58"/></g>
<g fill="none" stroke="#55464e" stroke-opacity="0.9" stroke-width="3.7" stroke-linecap="round" stroke-linejoin="round">
<path d="M588.800 75.500 C593 82 596.500 90 596.600 98.300 C596 108 591 118 588 128 C586.500 133 584.500 137 583 142 C580.500 148 578.500 152 579.500 157 C580.500 163 584 170 587.500 177 L590 183"/>
<path d="M573 87.300 Q576 94 585 97 Q590 98.500 596 98.300"/>
<path d="M562.800 117.100 Q574 122 588 127.500"/>
<path d="M589 127 Q598 130 606 132.300"/>
<path d="M591 131 Q597 136 599.500 142.500"/>
</g>
<circle cx="637.4" cy="124" r="28" fill="#8bcba5"/>
<circle cx="640.3" cy="91.9" r="19.2" fill="#45a86d"/>
<circle cx="599.9" cy="65.2" r="12" fill="#45a86d"/>
<circle cx="568.5" cy="66.9" r="20.2" fill="#8bcba5"/>
<ellipse cx="531.8" cy="120.8" rx="30.5" ry="27.6" fill="#45a86d"/>
<circle cx="517.3" cy="115.1" r="8.5" fill="#2f8c58"/>
<circle cx="546.6" cy="167.6" r="19" fill="#45a86d"/>
<circle cx="531.6" cy="155" r="15" fill="#8bcba5"/>
<circle cx="557.8" cy="136.6" r="10" fill="#8bcba5"/>
<circle cx="652.9" cy="150.4" r="16.2" fill="#2f8c58"/>
<circle cx="589.9" cy="186.6" r="11.4" fill="#2f8c58"/>
<circle cx="603" cy="193.7" r="6" fill="#45a86d"/>
<g transform="translate(592.7 49) rotate(-15)"><path d="M0 6.25 Q-8 0 0 -6.25 Q8 0 0 6.25Z" fill="#8bcba5"/><path d="M0 6.25 Q8 0 0 -6.25 Z" fill="#45a86d"/></g>
<g transform="translate(635 61.5) rotate(30)"><path d="M0 6.25 Q-8 0 0 -6.25 Q8 0 0 6.25Z" fill="#45a86d"/><path d="M0 6.25 Q8 0 0 -6.25 Z" fill="#2f8c58"/></g>
<g transform="translate(548 92.8) rotate(35)"><path d="M0 7.5 Q-8.5 0 0 -7.5 Q8.5 0 0 7.5Z" fill="#8bcba5"/><path d="M0 7.5 Q8.5 0 0 -7.5 Z" fill="#a8d8b8"/></g>
<g transform="translate(553.8 101.8) rotate(82)"><path d="M0 7.75 Q-7.5 0 0 -7.75 Q7.5 0 0 7.75Z" fill="#8bcba5"/><path d="M0 7.75 Q7.5 0 0 -7.75 Z" fill="#a8d8b8"/></g>
<g transform="translate(608 111) rotate(-50)"><path d="M0 6.0 Q-8 0 0 -6.0 Q8 0 0 6.0Z" fill="#8bcba5"/><path d="M0 6.0 Q8 0 0 -6.0 Z" fill="#a8d8b8"/></g>
<g transform="translate(658 164) rotate(-20)"><path d="M0 6.0 Q-8 0 0 -6.0 Q8 0 0 6.0Z" fill="#8bcba5"/><path d="M0 6.0 Q8 0 0 -6.0 Z" fill="#45a86d"/></g>
</g>
<g id="pool">
<rect x="547.5" y="251.5" width="221.700" height="164.500" fill="#d0d0d1" stroke="#9c9c9e" stroke-width="1"/>
<rect x="562.300" y="266" width="192.100" height="135.600" fill="#11aaa6"/>
<g clip-path="url(#poolclip)">
<path d="M560.0 262.0 C564.5 262.0 582.6 262.0 587.1 262.0 L587.1 262.0 C586.3 267.3 584.4 284.2 582.3 293.8 C580.2 303.4 578.0 313.1 574.3 319.3 C570.6 325.5 562.4 329.1 560.0 331.0 Z" fill="#0f9690"/>
<path d="M640.0 258.0 C639.4 259.4 640.7 260.1 636.4 266.1 C632.1 272.1 619.4 284.4 614.1 293.8 C608.8 303.2 608.8 314.0 604.6 322.5 C600.4 331.0 596.5 338.5 588.7 344.8 C580.9 351.1 563.1 357.9 558.0 360.5 L558.0 381.0 C566.3 378.7 595.8 373.1 607.8 367.1 C619.8 361.1 624.8 353.3 630.1 344.8 C635.4 336.3 635.4 325.7 639.6 316.1 C643.8 306.6 646.5 295.8 655.5 287.5 C664.5 279.2 686.4 271.0 693.8 266.1 C701.2 261.2 699.0 259.4 700.0 258.0 Z" fill="#0f9690"/>
<path d="M760.0 283.0 C758.9 283.2 763.1 282.2 753.6 284.3 C744.1 286.4 717.0 290.1 703.3 295.4 C689.6 300.7 678.9 307.3 671.5 316.1 C664.1 324.9 663.0 337.4 658.7 348.0 C654.5 358.6 650.5 371.1 646.0 379.8 C641.5 388.6 634.7 395.8 631.7 400.5 C628.7 405.2 628.6 406.8 628.0 408.0 L660.0 408.0 C660.3 406.8 659.5 407.9 661.9 400.5 C664.3 393.1 670.4 375.3 674.6 363.9 C678.9 352.5 681.0 341.1 687.4 332.1 C693.8 323.1 701.9 315.1 712.9 309.8 C723.9 304.5 745.8 302.0 753.6 300.2 C761.5 298.4 758.9 299.2 760.0 299.0 Z" fill="#0f9690"/>
<path d="M760.0 321.0 C758.9 321.2 759.3 320.9 753.6 322.5 C747.9 324.1 734.0 326.2 725.6 330.5 C717.2 334.8 709.7 340.8 703.3 348.0 C696.9 355.2 691.1 364.8 687.4 373.5 C683.7 382.2 682.2 394.8 681.0 400.5 C679.8 406.2 680.2 406.8 680.0 408.0 L696.0 408.0 C696.1 406.8 696.2 404.3 696.9 400.5 C697.6 396.7 697.5 391.4 700.0 385.0 C702.5 378.6 706.7 368.7 712.0 362.0 C717.3 355.3 725.1 349.0 732.0 344.8 C738.9 340.6 748.9 338.4 753.6 336.8 C758.3 335.2 758.9 335.7 760.0 335.5 Z" fill="#0f9690"/>
<path d="M760.0 356.0 C758.9 356.2 756.1 356.2 753.6 357.5 C751.1 358.8 747.3 359.4 745.0 364.0 C742.7 368.6 741.2 378.9 740.0 385.0 C738.8 391.1 738.5 396.7 738.0 400.5 C737.5 404.3 737.2 406.8 737.0 408.0 L747.0 408.0 C747.2 406.8 747.5 404.3 748.0 400.5 C748.5 396.7 749.1 389.8 750.0 385.0 C750.9 380.2 751.9 374.2 753.6 371.9 C755.3 369.6 758.9 371.1 760.0 371.0 Z" fill="#0f9690"/>
</g>
<circle cx="709.7" cy="365.8" r="25.2" fill="none" stroke="#ffffff" stroke-width="6.4"/>
<circle cx="709.7" cy="365.8" r="19" fill="none" stroke="#8fc9d8" stroke-width="6"/>
<path d="M689.62 345.72 A28.4 28.4 0 0 1 709.70 337.40 L709.70 343.80 A22 22 0 0 0 694.14 350.24 Z" fill="#ee4d40"/>
<path d="M694.14 350.24 A22 22 0 0 1 709.70 343.80 L709.70 349.80 A16 16 0 0 0 698.39 354.49 Z" fill="#c93a34"/>
<path d="M729.78 345.72 A28.4 28.4 0 0 1 738.10 365.80 L731.70 365.80 A22 22 0 0 0 725.26 350.24 Z" fill="#ee4d40"/>
<path d="M725.26 350.24 A22 22 0 0 1 731.70 365.80 L725.70 365.80 A16 16 0 0 0 721.01 354.49 Z" fill="#c93a34"/>
<path d="M729.78 385.88 A28.4 28.4 0 0 1 709.70 394.20 L709.70 387.80 A22 22 0 0 0 725.26 381.36 Z" fill="#ee4d40"/>
<path d="M725.26 381.36 A22 22 0 0 1 709.70 387.80 L709.70 381.80 A16 16 0 0 0 721.01 377.11 Z" fill="#c93a34"/>
<path d="M689.62 385.88 A28.4 28.4 0 0 1 681.30 365.80 L687.70 365.80 A22 22 0 0 0 694.14 381.36 Z" fill="#ee4d40"/>
<path d="M694.14 381.36 A22 22 0 0 1 687.70 365.80 L693.70 365.80 A16 16 0 0 0 698.39 377.11 Z" fill="#c93a34"/>
</g>
<g id="car">
<path d="M75.500 328 Q73.500 322 78.500 320.200 Q83.500 319.500 83.500 323 Q82.500 326 81 328.500 Z" fill="#515154" stroke="#1a1a1a" stroke-width="0.8"/>
<path d="M75 392 Q73 398 78 399.800 Q83 400.500 83 397 Q82 394 80.500 391.500 Z" fill="#515154" stroke="#1a1a1a" stroke-width="0.8"/>
<path d="M18.900 360 C18.900 344 24 331 46 327 L140 327 C160 327.500 172 332 177 341 C180.500 348 181 354 181 360 C181 366 180.500 372 177 379 C172 388 160 392.500 140 393 L46 393 C24 389 18.900 376 18.900 360 Z" fill="#5c5c60" stroke="#141414" stroke-width="1.5"/>
<path d="M46 328 L140 328 C152 328.300 161 330 167 333.500 L150 335 L62 334.500 Z" fill="#414144"/>
<path d="M46 392 L140 392 C152 391.700 161 390 167 386.500 L150 385 L62 385.500 Z" fill="#505054"/>
<path d="M21.500 360 C21.500 347 25 338 33 334.500 Q48 335.500 60 337.500 Q55.500 360 60 382.500 Q48 384.500 33 385.500 C25 382 21.500 373 21.500 360 Z" fill="#6c6c70"/>
<path d="M60 337.500 Q42 334.500 29 338 M60 382.500 Q42 385.500 29 382" fill="none" stroke="#2a2a2c" stroke-width="0.8"/>
<path d="M62.700 334 C56.500 350 56.500 369 62.700 384.500 L88.500 382 C85.500 368 85.500 352 88.500 337 Z" fill="#4c4c50" stroke="#141414" stroke-width="0.9"/>
<path d="M67.500 336 C62.500 351 62.500 369 67.500 384 L87.500 381.500 C84.800 367 84.800 353 87.500 338.500 Z" fill="#85858a"/>
<path d="M66 364 Q72 362 76 366 Q80 369 80 375 L79 382.500 L67.500 384 Q64.500 375 66 364 Z" fill="#707075" opacity="0.8"/>
<path d="M88.500 337 L139.500 339 C142.500 352 142.500 368 139.500 381 L88.500 383 C85.500 368 85.500 352 88.500 337 Z" fill="#6a6a6e"/>
<path d="M86 330.500 Q112 328.500 140 331.500 L134 335 H91 Z" fill="#3e3e41" stroke="#141414" stroke-width="0.6"/>
<path d="M86 389.500 Q112 391.500 140 388.500 L134 385 H91 Z" fill="#77777b" stroke="#141414" stroke-width="0.6"/>
<path d="M105 329.500 L106.500 335 M105 390.500 L106.500 385" stroke="#141414" stroke-width="0.7" fill="none"/>
<path d="M139.500 339 L160.500 337.500 C166.500 351 166.500 369 160.500 382.500 L139.500 381 C142.500 368 142.500 352 139.500 339 Z" fill="#57575b" stroke="#141414" stroke-width="0.9"/>
<path d="M141 340.500 L151.500 339.800 C155.500 352 155.500 368 151.500 380.200 L141 379.500 C143.800 367 143.800 353 141 340.500 Z" fill="#909095"/>
<path d="M151.500 339.800 L159.500 339 C164.500 352 164.500 368 159.500 381 L151.500 380.200 C155.500 368 155.500 352 151.500 339.800 Z" fill="#737377"/>
<path d="M160 330 C170 332.500 178.300 344 178.600 360 C178.300 376 170 387.500 160 390 L161.500 383 C167.500 369 167.500 351 161.500 337 Z" fill="#454548"/>
</g>
<g id="compass" transform="translate(393.4 334.8) rotate(-50)">
<path d="M-5.500 -24.500 L0 -33 L5.500 -24.500 Z" fill="#454547" transform="rotate(0)"/>
<path d="M-5.500 -24.500 L0 -33 L5.500 -24.500 Z" fill="#454547" transform="rotate(90)"/>
<path d="M-5.500 -24.500 L0 -33 L5.500 -24.500 Z" fill="#454547" transform="rotate(180)"/>
<path d="M-5.500 -24.500 L0 -33 L5.500 -24.500 Z" fill="#454547" transform="rotate(270)"/>
<circle r="25.400" fill="#ffffff" stroke="#454547" stroke-width="3.6"/>
<circle r="21" fill="#dededf"/>
<path d="M-3.2 0 L0 -17.500 L3.2 0 Z" fill="#d81e5a"/><path d="M0 0 L0 -17.500 L3.2 0 Z" fill="#a81444"/>
<path d="M-3.2 0 L0 17.500 L3.2 0 Z" fill="#b3b3b5"/><path d="M0 0 L0 17.500 L3.2 0 Z" fill="#8c8c8e"/>
<circle r="3" fill="#ffffff"/>
<text x="0" y="-36.700" font-family="'Liberation Sans',sans-serif" font-weight="bold" font-size="9.5" fill="#808082" text-anchor="middle">É</text>
<text x="40.300" y="3.4" font-family="'Liberation Sans',sans-serif" font-weight="bold" font-size="9.5" fill="#808082" text-anchor="middle">K</text>
<text x="0" y="43.500" font-family="'Liberation Sans',sans-serif" font-weight="bold" font-size="9.5" fill="#808082" text-anchor="middle">D</text>
<text x="-43" y="3.4" font-family="'Liberation Sans',sans-serif" font-weight="bold" font-size="9.5" fill="#808082" text-anchor="middle">NY</text>
</g>
<g style="mix-blend-mode:multiply"><rect x="0" y="0" width="1" height="1" fill="#ffffff"/></g>
</svg>
</body></html>
